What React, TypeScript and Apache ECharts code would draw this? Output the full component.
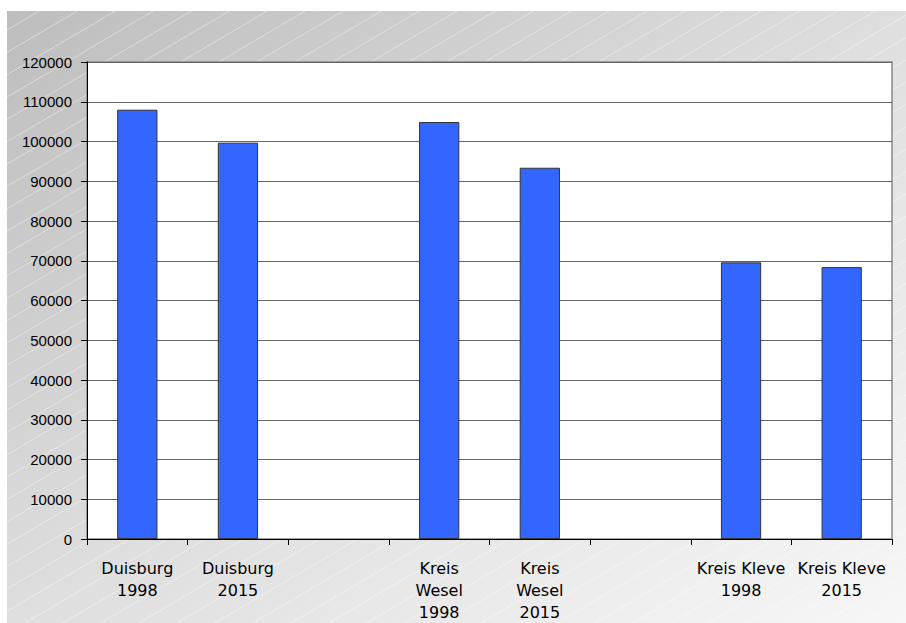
import React, { useEffect, useRef } from "react";
import * as echarts from "echarts";

const categories = [
  "Duisburg\n1998",
  "Duisburg\n2015",
  "",
  "Kreis\nWesel\n1998",
  "Kreis\nWesel\n2015",
  "",
  "Kreis Kleve\n1998",
  "Kreis Kleve\n2015",
];
const values: (number | string)[] = [108000, 99700, "-", 104900, 93400, "-", 69600, 68400];
const yMin = 0;
const yMax = 120000;
const yStep = 10000;

function stripeLines() {
  const left = 7, right = 906, top = 11, bottom = 623;
  const s = 1.7;
  const els: any[] = [];
  for (let c = 20; c < right + s * bottom; c += 38) {
    const yTop = Math.max(top, (c - right) / s);
    const yBot = Math.min(bottom, (c - left) / s);
    if (yTop >= yBot) continue;
    els.push({
      type: "line",
      z: -9,
      silent: true,
      shape: { x1: c - s * yTop, y1: yTop, x2: c - s * yBot, y2: yBot },
      style: { stroke: "rgba(255,255,255,0.4)", lineWidth: 1 },
    });
  }
  return els;
}

export default function App() {
  const ref = useRef<HTMLDivElement>(null);
  useEffect(() => {
    if (!ref.current) return;
    const chart = echarts.init(ref.current, null, { renderer: "svg" });
    chart.setOption({
      animation: false,
      backgroundColor: "#ffffff",
      graphic: [
        {
          type: "rect",
          z: -10,
          silent: true,
          shape: { x: 7, y: 11, width: 899, height: 612 },
          style: {
            fill: new echarts.graphic.LinearGradient(0, 0, 1, 1, [
              { offset: 0, color: "#bdbdbd" },
              { offset: 0.5, color: "#dedede" },
              { offset: 1, color: "#f7f7f7" },
            ]),
          },
        },
        ...stripeLines(),
      ],
      grid: {
        left: 87,
        right: 14,
        top: 62,
        bottom: 80,
        show: true,
        backgroundColor: "#ffffff",
        borderColor: "#888888",
        borderWidth: 1.5,
      },
      xAxis: {
        type: "category",
        data: categories,
        boundaryGap: true,
        axisLine: { show: true, lineStyle: { color: "#000000", width: 1 } },
        axisTick: { show: true, length: 6, lineStyle: { color: "#000000" } },
        axisLabel: {
          interval: 0,
          margin: 18,
          color: "#000000",
          fontFamily: "DejaVu Sans",
          fontSize: 16,
          lineHeight: 22,
          align: "center",
        },
        splitLine: { show: false },
      },
      yAxis: {
        type: "value",
        min: yMin,
        max: yMax,
        interval: yStep,
        axisLine: { show: true, lineStyle: { color: "#000000", width: 1 } },
        axisTick: { show: true, length: 6, lineStyle: { color: "#000000" } },
        axisLabel: {
          margin: 15,
          color: "#000000",
          fontFamily: "Liberation Sans",
          fontSize: 15,
          formatter: (v: number) => String(v),
        },
        splitLine: { show: true, lineStyle: { color: "#666666", width: 1.2 } },
      },
      series: [
        {
          type: "bar",
          data: values,
          barWidth: "40%",
          itemStyle: { color: "#3366FF", borderColor: "#333333", borderWidth: 1 },
        },
      ],
    });
    return () => chart.dispose();
  }, []);
  return (
    <div
      ref={ref}
      style={{ position: "absolute", left: 0, top: 0, width: 906, height: 623 }}
    />
  );
}
